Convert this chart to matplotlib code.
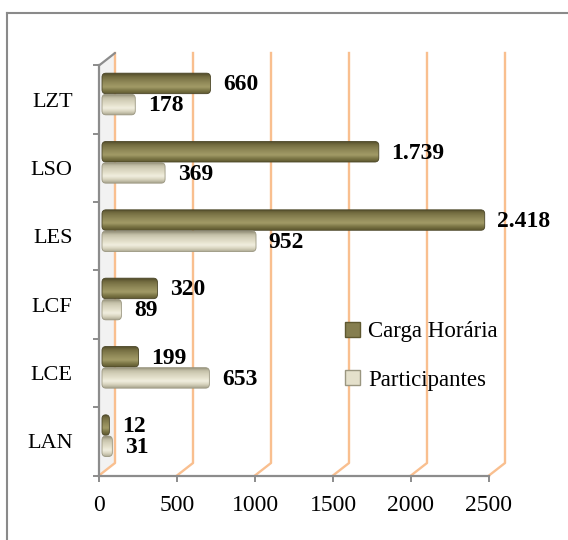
import matplotlib
matplotlib.use("Agg")
import matplotlib.pyplot as plt
import numpy as np
from matplotlib.patches import Polygon, FancyBboxPatch, Patch
from matplotlib.colors import LinearSegmentedColormap
from matplotlib.transforms import ScaledTranslation
from matplotlib.lines import Line2D

plt.rcParams['font.family'] = ['Liberation Serif', 'DejaVu Serif']

categories = ["LAN", "LCE", "LCF", "LES", "LSO", "LZT"]
carga = [12, 199, 320, 2418, 1739, 660]
participantes = [31, 653, 89, 952, 369, 178]
series_names = ["Carga Horária", "Participantes"]
xticks = [0, 500, 1000, 1500, 2000, 2500]

W, H = 568, 540
fig = plt.figure(figsize=(W / 100, H / 100), dpi=100)
ax = fig.add_axes([99 / W, (H - 475.5) / H, 390 / W, 410 / H])
ax.set_xlim(0, 2500)
ax.set_ylim(-0.5, len(categories) - 0.5)

# depth of the 3D box (in data units, from pixel depth)
px_x = 390 / 2500.0
px_y = 410 / len(categories)
DX = 16 / px_x
DY = 12.5 / px_y

grid_c = "#F9BF8F"
axis_c = "#8C8C8C"
y0, y1 = -0.5, len(categories) - 0.5

# left wall
wall = Polygon([(0, y0), (0, y1), (DX, y1 + DY), (DX, y0 + DY)], closed=True,
               facecolor="#F2F2F2", edgecolor="none", zorder=0.5, clip_on=False)
ax.add_patch(wall)
ax.plot([0, DX], [y1, y1 + DY], color=axis_c, lw=1.6, clip_on=False, zorder=4,
        solid_capstyle="round")

# gridlines (back wall + floor)
for t in xticks:
    ax.plot([t, t + DX, t + DX], [y0, y0 + DY, y1 + DY], color=grid_c, lw=1.7,
            clip_on=False, zorder=1)

# bars (3D look: shifted into depth, embedded slightly in the wall)
bar_off = ScaledTranslation(8.5 / 100, 6 / 100, fig.dpi_scale_trans)
trans = ax.transData + bar_off
CAP = 5.5 / px_x
h = 0.30
cm_carga = LinearSegmentedColormap.from_list(
    "c", ["#5E5830", "#7C7646", "#A29B67", "#958E5C", "#857E4F", "#736C40", "#4F4A28"])
cm_part = LinearSegmentedColormap.from_list(
    "p", ["#A8A48E", "#D8D4BE", "#F1EEDF", "#E4E0CB", "#D6D2BC", "#C4C0A8", "#8E8A74"])
grad = np.linspace(0, 1, 64).reshape(-1, 1)

def draw_bar(val, yc, cmap, edge):
    yb = yc - h / 2
    width = val + CAP
    r = min(4 / px_x, width / 2)
    asp = (4 / px_y) / (4 / px_x)
    p = FancyBboxPatch((-CAP, yb), width, h,
                       boxstyle=f"round,pad=0,rounding_size={r}",
                       mutation_aspect=asp, facecolor="none", edgecolor=edge,
                       lw=0.6, transform=trans, zorder=3.1, clip_on=False)
    ax.add_patch(p)
    im = ax.imshow(grad, cmap=cmap, extent=[-CAP, val, yb + h, yb], aspect="auto",
                   transform=trans, zorder=3, interpolation="bicubic")
    im.set_clip_path(p)

def lab(v):
    return f"{v:,}".replace(",", ".")

for i, (c, pv) in enumerate(zip(carga, participantes)):
    draw_bar(c, i + 0.15, cm_carga, "#4A4526")
    draw_bar(pv, i - 0.16, cm_part, "#9A9680")
    ax.annotate(lab(c), (c, i + 0.13), xycoords=trans, xytext=(9, 0),
                textcoords="offset points", ha="left", va="center",
                fontsize=17, fontweight="bold", zorder=5)
    ax.annotate(lab(pv), (pv, i - 0.18), xycoords=trans, xytext=(9, 0),
                textcoords="offset points", ha="left", va="center",
                fontsize=17, fontweight="bold", zorder=5)

ax.set_xlim(0, 2500)
ax.set_ylim(y0, y1)

# axes
for s in ["top", "right"]:
    ax.spines[s].set_visible(False)
for s in ["left", "bottom"]:
    ax.spines[s].set_color(axis_c)
    ax.spines[s].set_linewidth(1.6)
    ax.spines[s].set_zorder(4)
ax.set_xticks(xticks)
ax.set_xticklabels([str(t) for t in xticks], fontsize=17)
ax.tick_params(axis="x", length=4, width=1.4, color=axis_c, pad=10)
ax.set_yticks(range(len(categories)))
ax.set_yticklabels(categories, fontsize=16)
ax.set_yticks(np.arange(-0.5, len(categories)), minor=True)
ax.tick_params(axis="y", which="major", length=0, pad=19)
ax.tick_params(axis="y", which="minor", length=4, width=1.4, color=axis_c)
ax.set_facecolor("none")

# legend
handles = [Patch(facecolor="#857E4F", edgecolor="#5E5830"),
           Patch(facecolor="#E4E0CB", edgecolor="#9A9680")]
fig.legend(handles, series_names, loc="center left",
           bbox_to_anchor=(345 / W, 1 - 356 / H), frameon=False, fontsize=16.5,
           handlelength=0.65, handleheight=0.65, handletextpad=0.35,
           labelspacing=1.2, borderpad=0, borderaxespad=0)

# outer border
fig.add_artist(Line2D([7 / W, 7 / W], [0, 1 - 13 / H], color="#8A8A8A", lw=1.5,
                      transform=fig.transFigure))
fig.add_artist(Line2D([7 / W, 1], [1 - 13 / H, 1 - 13 / H], color="#8A8A8A", lw=1.5,
                      transform=fig.transFigure))

fig.savefig("out.png", dpi=100)
